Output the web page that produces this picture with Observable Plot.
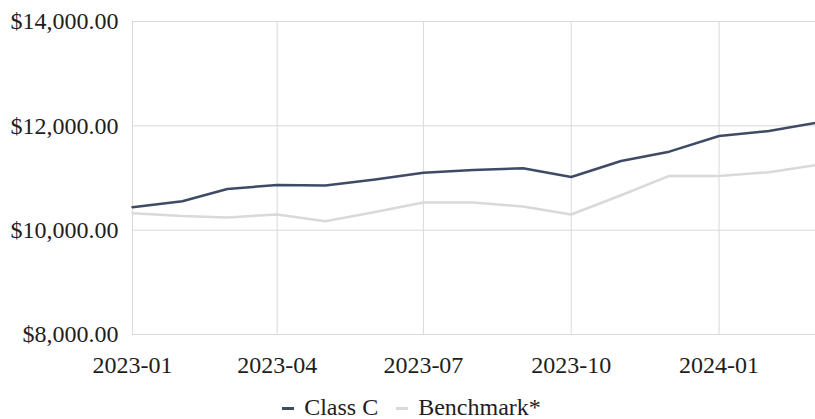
<!DOCTYPE html>
<html>
<head>
<meta charset="utf-8">
<script src="https://cdn.jsdelivr.net/npm/d3@7"></script>
<script src="https://cdn.jsdelivr.net/npm/@observablehq/plot@0.6"></script>
<style>
  html, body { margin: 0; padding: 0; background: #fff; }
  #legend { display: flex; justify-content: center; align-items: baseline; margin-top: 17px; padding-left: 8px;
    font-family: "Liberation Serif", "Times New Roman", Times, "DejaVu Serif", serif; font-size: 24px; line-height: 20px; color: #1e1e1e; }
  .item { display: inline-flex; align-items: baseline; margin: 0 9px; }
  .sw { display: inline-block; width: 12px; height: 3px; margin-right: 10px; position: relative; top: -5px; }
</style>
</head>
<body>
<div id="chart"></div>
<div id="legend"></div>
<script>
const months = ["2023-01","2023-02","2023-03","2023-04","2023-05","2023-06","2023-07","2023-08","2023-09","2023-10","2023-11","2023-12","2024-01","2024-02","2024-03"];
const classC = [10440, 10555, 10790, 10865, 10855, 10970, 11100, 11155, 11185, 11020, 11325, 11505, 11805, 11900, 12055];
const benchmark = [10325, 10270, 10245, 10300, 10170, 10350, 10530, 10530, 10455, 10300, 10670, 11040, 11040, 11110, 11245];
const yTicks = [8000, 10000, 12000, 14000];
const xTickLabels = ["2023-01","2023-04","2023-07","2023-10","2024-01"];
const seriesNames = ["Class C", "Benchmark*"];
const seriesColors = ["#3e4a66", "#d9d9d9"];

const parse = d3.utcParse("%Y-%m");
const rows = [];
months.forEach((m, i) => {
  rows.push({date: parse(m), value: benchmark[i], series: seriesNames[1]});
});
months.forEach((m, i) => {
  rows.push({date: parse(m), value: classC[i], series: seriesNames[0]});
});
const xTicks = xTickLabels.map(parse);

const chart = Plot.plot({
  width: 815,
  height: 380,
  marginTop: 21,
  marginBottom: 46,
  marginLeft: 132,
  marginRight: 0,
  style: { fontFamily: "'Liberation Serif', 'Times New Roman', Times, 'DejaVu Serif', serif", fontSize: "24px", color: "#1e1e1e", background: "#fff" },
  x: { type: "utc", domain: [parse(months[0]), parse(months[months.length - 1])] },
  y: { domain: [8000, 14000] },
  color: { domain: seriesNames, range: seriesColors },
  marks: [
    Plot.gridY(yTicks, { stroke: "#d9d9d9", strokeOpacity: 1, strokeWidth: 1 }),
    Plot.gridX(xTicks, { stroke: "#d9d9d9", strokeOpacity: 1, strokeWidth: 1 }),
    Plot.axisY(yTicks, { tickSize: 0, tickPadding: 14, tickFormat: d3.format("$,.2f"), label: null }),
    Plot.axisX(xTicks, { tickSize: 0, tickPadding: 21, tickFormat: d3.utcFormat("%Y-%m"), label: null }),
    Plot.line(rows, { x: "date", y: "value", z: "series", stroke: "series", strokeWidth: 2.5 })
  ]
});
document.getElementById("chart").appendChild(chart);

const legend = document.getElementById("legend");
seriesNames.forEach((name, i) => {
  const item = document.createElement("span");
  item.className = "item";
  const sw = document.createElement("span");
  sw.className = "sw";
  sw.style.background = seriesColors[i];
  item.appendChild(sw);
  item.appendChild(document.createTextNode(name));
  legend.appendChild(item);
});
</script>
</body>
</html>
